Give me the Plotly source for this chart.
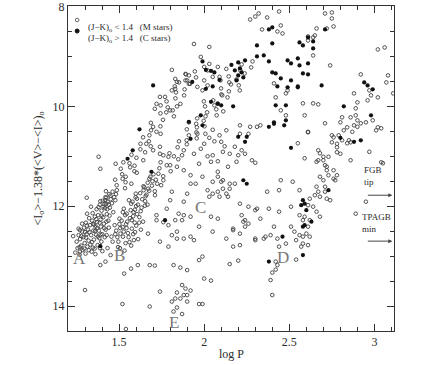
import plotly.graph_objects as go

# ---- M stars (J-K)o < 1.4 as (log P, magnitude) ----
m_seq_a = [
    (1.243, 12.93), (1.251, 12.71), (1.256, 12.84), (1.262, 12.58), (1.268, 12.97), (1.271, 12.66),
    (1.277, 12.79), (1.283, 12.51), (1.286, 12.88), (1.291, 12.62), (1.294, 12.43), (1.298, 12.74),
    (1.303, 12.95), (1.305, 12.33), (1.309, 12.56), (1.314, 12.81), (1.318, 12.47), (1.321, 12.69),
    (1.324, 12.24), (1.329, 12.38), (1.331, 12.77), (1.336, 12.58), (1.339, 12.91), (1.342, 12.29),
    (1.345, 12.14), (1.349, 12.49), (1.352, 12.67), (1.356, 12.85), (1.358, 12.21), (1.362, 12.41),
    (1.365, 12.57), (1.368, 12.06), (1.371, 12.32), (1.374, 12.78), (1.377, 12.18), (1.381, 12.49),
    (1.384, 12.64), (1.387, 11.97), (1.391, 12.27), (1.393, 12.41), (1.397, 12.09), (1.401, 12.56),
    (1.404, 11.89), (1.407, 12.22), (1.411, 12.35), (1.414, 11.96), (1.418, 12.04), (1.421, 12.47),
    (1.425, 11.83), (1.428, 12.16), (1.433, 11.91), (1.437, 12.29), (1.442, 11.76), (1.446, 12.03),
    (1.451, 11.86), (1.455, 12.61), (1.462, 11.71), (1.361, 12.96), (1.402, 12.90), (1.432, 12.84),
    (1.312, 12.15), (1.335, 12.01), (1.283, 12.35), (1.352, 12.37), (1.375, 12.61), (1.396, 12.71),
    (1.416, 12.62), (1.440, 12.43), (1.427, 12.58), (1.300, 12.52),
    (1.262, 12.45), (1.279, 12.60), (1.295, 12.85), (1.311, 12.39), (1.326, 12.52), (1.341, 12.72),
    (1.347, 12.35), (1.359, 12.50), (1.366, 12.26), (1.372, 12.44), (1.379, 12.02), (1.386, 12.33),
    (1.392, 12.57), (1.398, 12.19), (1.409, 12.01), (1.413, 12.44), (1.419, 11.88), (1.426, 12.31),
    (1.431, 12.06), (1.439, 11.97), (1.444, 12.19), (1.449, 11.79), (1.458, 11.94), (1.466, 12.12),
    (1.471, 11.82), (1.322, 12.88), (1.346, 12.83), (1.388, 12.84), (1.268, 12.82), (1.306, 12.63),
    (1.425, 11.95), (1.478, 11.88), (1.420, 11.82), (1.482, 11.76), (1.423, 11.70), (1.535, 11.64),
    (1.486, 11.58), (1.538, 11.52), (1.477, 11.47), (1.539, 11.41), (1.518, 11.36), (1.590, 11.30),
    (1.510, 11.25), (1.591, 11.19), (1.561, 11.14), (1.642, 11.08), (1.602, 11.03), (1.573, 10.97),
    (1.653, 10.92), (1.625, 10.86), (1.686, 10.80), (1.626, 10.75), (1.390, 11.90), (1.572, 11.55),
    (1.604, 11.33), (1.525, 11.12), (1.700, 10.88), (1.487, 11.68), (1.521, 11.45), (1.565, 11.22),
    (1.675, 10.70), (1.641, 10.62), (1.744, 10.55), (1.688, 10.48), (1.743, 10.40), (1.687, 10.33),
    (1.758, 10.27), (1.822, 10.20), (1.743, 10.14), (1.815, 10.08), (1.786, 10.02), (1.860, 9.95),
    (1.779, 9.90), (1.831, 9.84), (1.882, 9.78), (1.834, 9.72), (1.885, 9.66), (1.827, 9.60),
    (1.917, 9.55), (1.890, 9.48), (1.952, 9.42), (1.893, 9.36), (1.945, 9.30), (1.678, 10.58),
    (1.777, 10.12), (1.744, 9.98), (1.852, 9.52),
]

m_seq_b = [
    (1.462, 12.71), (1.483, 12.49), (1.494, 12.82), (1.502, 12.36), (1.523, 12.61), (1.544, 12.44),
    (1.561, 12.72), (1.548, 12.31), (1.583, 12.56), (1.601, 12.39), (1.571, 12.79), (1.532, 12.89),
    (1.612, 12.66), (1.628, 12.47), (1.508, 12.55), (1.474, 12.38), (1.592, 12.33), (1.641, 12.31),
    (1.552, 12.54), (1.521, 12.42), (1.587, 12.68), (1.490, 12.62),
    (1.478, 12.56), (1.496, 12.71), (1.507, 12.44), (1.515, 12.29), (1.527, 12.51), (1.536, 12.18),
    (1.541, 12.36), (1.556, 12.62), (1.564, 12.24), (1.568, 12.08), (1.575, 12.45), (1.579, 11.91),
    (1.585, 12.12), (1.594, 12.52), (1.597, 11.82), (1.606, 12.16), (1.611, 11.97), (1.618, 12.33),
    (1.624, 11.74), (1.632, 12.03), (1.636, 11.86), (1.648, 11.62), (1.652, 11.99), (1.661, 11.77),
    (1.668, 11.53), (1.677, 11.69), (1.684, 11.41), (1.693, 11.59), (1.702, 11.36), (1.716, 11.47),
    (1.538, 12.74), (1.505, 12.84),
    (1.502, 12.25), (1.583, 12.20), (1.545, 12.15), (1.627, 12.10), (1.528, 12.05), (1.600, 12.00),
    (1.571, 11.95), (1.653, 11.90), (1.605, 11.85), (1.656, 11.80), (1.598, 11.75), (1.710, 11.70),
    (1.671, 11.65), (1.643, 11.60), (1.724, 11.55), (1.696, 11.50), (1.619, 12.22), (1.593, 12.07),
    (1.667, 11.97), (1.558, 11.88), (1.711, 11.78), (1.644, 11.68), (1.747, 11.58), (1.522, 12.12),
    (1.575, 12.28),
    (1.678, 11.45), (1.759, 11.40), (1.731, 11.35), (1.803, 11.30), (1.737, 11.24), (1.800, 11.18),
    (1.744, 11.12), (1.848, 11.06), (1.822, 11.00), (1.796, 10.94), (1.880, 10.88), (1.844, 10.82),
    (1.898, 10.76), (1.852, 10.70), (1.956, 10.64), (1.910, 10.58), (1.954, 10.52), (1.898, 10.46),
    (2.002, 10.40), (1.953, 10.35), (1.997, 10.29), (1.959, 10.24), (2.073, 10.18), (2.017, 10.12),
    (2.071, 10.06), (2.005, 10.00), (2.079, 9.94), (2.053, 9.88), (2.137, 9.82), (2.101, 9.76),
    (2.145, 9.70), (2.099, 9.64), (2.203, 9.58), (2.147, 9.52), (2.190, 9.46), (2.144, 9.40),
    (2.238, 9.34), (2.212, 9.28), (2.276, 9.22), (2.220, 9.16), (2.284, 9.10), (2.007, 10.55),
    (1.910, 10.32), (2.112, 10.10), (1.998, 9.90), (2.209, 9.68), (2.096, 9.48), (1.897, 10.68),
    (1.957, 10.42), (2.008, 10.20), (2.060, 9.98), (2.106, 9.78), (2.157, 9.56),
    (1.96, 10.55), (2.03, 10.63), (2.05, 10.47), (2.06, 10.70), (2.09, 10.58), (2.12, 10.80),
    (1.98, 10.85), (2.02, 11.00), (2.08, 11.10), (2.00, 10.75),
]

m_top = [
    (2.27, 8.26), (2.30, 8.20), (2.32, 8.14), (2.37, 8.22), (2.44, 8.10), (2.34, 8.46), (2.43, 8.50),
    (2.45, 8.38), (2.46, 8.54), (2.71, 8.14), (2.75, 8.12), (2.75, 8.24), (2.76, 8.40), (2.72, 8.44),
    (2.66, 8.44), (2.65, 8.58), (2.64, 8.62), (2.61, 8.68), (2.61, 8.60), (2.74, 9.18), (2.64, 8.98),
    (1.81, 9.27), (1.84, 9.51), (1.89, 9.35), (1.91, 9.38), (1.94, 8.75), (1.98, 9.01), (2.00, 9.21),
    (2.02, 9.28), (2.03, 8.81), (1.74, 9.81), (1.77, 9.81), (1.72, 9.95), (1.71, 10.05), (1.81, 9.68),
    (1.83, 9.65), (1.90, 9.48), (1.96, 9.61), (2.00, 9.48), (2.02, 9.58), (1.80, 10.08), (1.84, 10.00),
    (1.83, 9.45), (1.91, 9.55), (2.03, 9.15), (2.08, 9.21), (2.13, 9.25), (2.05, 9.41), (1.99, 9.68),
    (2.09, 9.41),
]

m_right = [
    (3.02, 8.86), (3.06, 8.82), (3.08, 9.38), (3.07, 9.52), (3.11, 9.74), (2.92, 9.36), (3.02, 9.82),
    (2.97, 9.68), (2.96, 9.88), (2.88, 9.74), (2.90, 9.92), (2.98, 9.78), (2.89, 10.04), (2.86, 10.22),
    (2.89, 10.18), (2.90, 10.28), (2.88, 10.38), (2.92, 10.34), (2.95, 10.32), (2.99, 10.28), (3.02, 10.42),
    (3.04, 10.44), (2.81, 10.22), (2.80, 10.32), (2.84, 10.42), (2.82, 10.48), (2.79, 10.58), (2.81, 10.68),
    (2.76, 10.62), (2.75, 10.72), (2.78, 10.82), (2.86, 10.72), (2.84, 10.74), (2.78, 10.92), (2.71, 10.34),
    (2.61, 10.52), (2.55, 10.74), (2.59, 11.04), (2.67, 10.88), (2.68, 10.94), (2.70, 11.08), (2.71, 11.18),
    (2.72, 11.28), (2.73, 11.38), (2.76, 11.28), (2.77, 11.48), (2.67, 11.08), (2.86, 11.08), (3.04, 11.12),
    (3.05, 11.14), (2.64, 9.94), (2.67, 9.96), (2.58, 9.94), (2.59, 10.18), (2.48, 10.18), (2.45, 10.08),
    (2.42, 9.82), (2.41, 9.54), (2.48, 9.74), (2.49, 9.68), (2.61, 10.51), (2.70, 11.01), (2.66, 11.11),
    (2.73, 11.01), (2.75, 10.58), (2.78, 10.75), (2.80, 10.95), (2.85, 10.68), (2.87, 10.51), (2.90, 10.41),
    (2.97, 10.91), (3.01, 10.48), (2.95, 11.91), (2.89, 12.15),
]

m_seq_d = [
    (2.72, 11.21), (2.78, 11.38), (2.76, 11.45), (2.68, 11.41), (2.70, 11.48), (2.71, 11.61), (2.66, 11.61),
    (2.67, 11.71), (2.65, 11.78), (2.68, 11.81), (2.71, 11.71), (2.72, 11.85), (2.74, 11.88), (2.62, 11.85),
    (2.61, 11.98), (2.64, 12.01), (2.59, 12.21), (2.58, 12.28), (2.62, 12.28), (2.61, 12.41), (2.56, 12.18),
    (2.51, 12.41), (2.53, 12.51), (2.56, 12.58), (2.54, 12.68), (2.58, 12.61), (2.60, 12.55), (2.62, 12.61),
    (2.58, 12.75), (2.61, 12.78), (2.57, 12.81), (2.66, 12.11), (2.68, 12.21), (2.44, 12.11), (2.51, 12.01),
    (2.56, 11.68), (2.52, 11.51), (2.45, 11.48), (2.44, 11.68), (2.37, 11.71), (2.48, 12.75), (2.44, 12.81),
    (2.39, 12.58), (2.36, 12.61), (2.30, 12.65),
]

m_field = [
    (2.13, 10.48), (2.21, 10.38), (2.27, 10.41), (2.31, 10.41), (2.33, 10.38), (2.21, 10.55), (2.26, 10.55),
    (2.10, 10.71), (2.11, 10.91), (2.18, 10.81), (2.22, 10.88), (2.24, 10.95), (2.15, 10.95), (2.20, 10.98),
    (2.19, 11.11), (2.28, 11.08), (2.30, 11.13), (2.14, 11.21), (2.11, 11.48), (2.18, 11.55), (2.14, 11.81),
    (2.21, 11.95), (2.26, 12.01), (2.30, 12.08), (2.33, 12.25), (2.24, 12.28), (2.26, 12.35), (2.17, 12.45),
    (2.21, 12.55), (2.13, 12.65),
    (1.74, 10.95), (1.79, 11.01), (1.87, 10.98), (1.94, 10.95), (1.97, 11.15), (2.05, 10.98), (2.04, 11.11),
    (1.78, 11.18), (1.84, 11.21), (1.88, 11.28), (1.76, 11.48), (1.92, 11.38), (1.99, 11.41), (2.08, 11.31),
    (2.08, 11.41), (2.05, 11.51), (2.10, 11.51), (2.15, 11.55), (1.92, 11.55), (1.95, 11.55), (2.02, 11.68),
    (2.05, 11.75), (2.08, 11.71), (2.11, 11.65), (2.13, 11.75), (2.15, 11.65), (2.03, 11.81), (2.09, 11.81),
    (1.81, 11.71), (1.88, 11.91), (1.80, 11.88), (1.90, 11.75), (1.78, 12.05), (1.85, 12.15), (1.88, 12.18),
    (1.92, 12.21), (2.04, 12.21), (2.08, 12.25), (1.72, 12.28), (1.83, 12.28), (1.87, 12.28), (1.97, 12.41),
    (2.05, 12.51), (2.17, 12.48), (2.22, 12.18), (2.23, 12.31), (2.24, 12.41), (2.31, 12.05), (2.38, 12.05),
    (2.41, 12.41), (2.43, 12.65), (2.35, 12.65), (2.30, 12.68), (2.17, 12.81), (2.21, 12.78), (1.74, 12.71),
    (1.81, 12.58), (1.84, 12.65), (1.92, 12.61), (1.94, 12.68), (1.88, 12.65),
    (1.72, 12.18), (1.76, 12.32), (1.79, 12.38), (1.67, 12.55), (1.79, 12.81), (1.84, 12.51),
    (1.38, 11.01), (1.39, 11.25), (1.48, 11.15), (1.31, 11.83), (1.23, 12.60), (1.27, 12.48), (1.66, 10.75),
    (1.70, 10.41), (1.72, 10.51), (1.74, 10.81), (1.76, 10.98),
]

m_low = [
    (1.27, 12.91), (1.39, 13.18), (1.42, 13.11), (1.45, 12.98), (1.53, 13.35), (1.57, 13.25), (1.61, 13.18),
    (1.68, 13.18), (1.71, 13.19), (1.82, 13.18), (1.86, 13.23), (1.90, 13.28), (1.97, 13.08), (1.99, 13.01),
    (2.00, 13.45), (2.04, 13.49), (1.30, 13.68), (1.52, 13.96), (1.68, 14.01), (1.74, 13.71), (1.84, 13.73),
    (1.81, 13.91), (1.83, 13.85), (1.87, 13.58), (1.89, 13.65), (1.90, 13.78), (1.88, 13.78), (1.92, 13.69),
    (1.86, 13.85), (1.90, 13.91), (1.82, 14.11), (1.87, 14.16), (1.84, 14.03), (1.97, 13.96), (1.99, 13.96),
    (1.54, 14.46), (2.15, 13.16), (2.20, 13.09), (2.42, 13.11), (2.43, 13.18), (2.42, 13.27), (2.40, 13.33),
    (2.39, 13.48), (2.40, 13.78), (2.54, 13.07),
]

# ---- C stars (J-K)o > 1.4 ----
c_stars = [
    (1.39, 12.80), (1.62, 10.46), (1.55, 11.05), (1.58, 10.88), (1.69, 11.31), (1.77, 12.28), (1.70, 9.58),
    (1.91, 10.31), (1.92, 10.65), (1.98, 10.18), (1.99, 10.38), (1.93, 9.51), (2.01, 9.65), (2.04, 9.91),
    (2.08, 9.95), (2.10, 9.98), (2.17, 10.00), (1.99, 9.10), (2.01, 9.27), (2.04, 9.29), (2.06, 9.32),
    (2.05, 9.60), (2.09, 9.47), (2.18, 9.28), (2.20, 9.12), (2.21, 9.24), (2.24, 9.08), (2.22, 9.32),
    (2.23, 9.42), (2.20, 9.38), (2.19, 9.48), (2.16, 9.17), (2.31, 9.00), (2.35, 8.98), (2.38, 9.10),
    (2.40, 9.32), (2.42, 9.34), (2.45, 9.44), (2.49, 9.08), (2.51, 9.14), (2.55, 9.04), (2.56, 9.18),
    (2.61, 9.14), (2.58, 9.34), (2.61, 9.36), (2.51, 9.48), (2.49, 9.62), (2.55, 9.62), (2.56, 8.72),
    (2.58, 8.78), (2.61, 8.62), (2.64, 8.70), (2.64, 8.84), (2.31, 8.78), (2.40, 8.74), (2.38, 8.46),
    (2.40, 8.42), (2.71, 8.46), (2.69, 9.58), (2.82, 10.00), (2.94, 9.52), (2.96, 9.58), (2.99, 9.66),
    (2.98, 10.18), (2.42, 9.98), (2.48, 9.98), (2.48, 10.28), (2.41, 10.32), (2.43, 9.60), (2.55, 9.60),
    (2.38, 10.41), (2.41, 10.35), (2.47, 10.38), (2.20, 10.61), (2.24, 10.71), (2.25, 10.61), (2.51, 10.83),
    (2.88, 10.71), (2.92, 10.68), (2.80, 10.63), (2.23, 11.48), (2.25, 11.55), (2.57, 11.98), (2.59, 11.95),
    (2.60, 12.08), (2.58, 12.41), (2.59, 12.38), (2.58, 11.88), (2.46, 12.61), (2.63, 12.31), (2.73, 11.68),
    (2.58, 12.98), (2.38, 13.11),
]

seq_letters = ['A', 'B', 'C', 'D', 'E']
letter_logp = [1.27, 1.50, 1.98, 2.46, 1.82]
letter_mag = [13.04, 12.98, 12.02, 13.02, 14.32]

m_all = m_seq_a + m_seq_b + m_top + m_right + m_seq_d + m_field + m_low
m_logp = [p[0] for p in m_all]
m_mag = [p[1] for p in m_all]
c_logp = [p[0] for p in c_stars]
c_mag = [p[1] for p in c_stars]

serif = 'Liberation Serif'
ink = '#2a2a2a'

fig = go.Figure()

fig.add_trace(go.Scatter(
    x = m_logp, y = m_mag,
    mode = 'markers',
    marker = dict(symbol = 'circle-open', size = 3.6, color = '#404040', line = dict(width = 0.9)),
    showlegend = False))

fig.add_trace(go.Scatter(
    x = c_logp, y = c_mag,
    mode = 'markers',
    marker = dict(symbol = 'circle', size = 4.2, color = '#111111'),
    showlegend = False))

# sequence letters
for t, x, y in zip(seq_letters, letter_logp, letter_mag):
    fig.add_annotation(x = x, y = y, text = t, showarrow = False,
                       font = dict(family = serif, size = 17, color = '#777777'))

# legend drawn by hand so the rows sit close together
fig.add_shape(type = 'circle', xref = 'paper', yref = 'paper', xsizemode = 'pixel', ysizemode = 'pixel',
              xanchor = 0.028, yanchor = 0.957, x0 = -1.8, x1 = 1.8, y0 = -1.8, y1 = 1.8,
              line = dict(color = '#555555', width = 0.9))
fig.add_shape(type = 'circle', xref = 'paper', yref = 'paper', xsizemode = 'pixel', ysizemode = 'pixel',
              xanchor = 0.028, yanchor = 0.923, x0 = -2, x1 = 2, y0 = -2, y1 = 2,
              line = dict(color = '#111111', width = 1), fillcolor = '#111111')
fig.add_annotation(x = 0.055, y = 0.957, xref = 'paper', yref = 'paper', xanchor = 'left', showarrow = False,
                   text = '(J\u2212K)<sub>o</sub> &lt; 1.4&nbsp;&nbsp;&nbsp;(M stars)',
                   font = dict(family = serif, size = 9, color = ink))
fig.add_annotation(x = 0.055, y = 0.923, xref = 'paper', yref = 'paper', xanchor = 'left', showarrow = False,
                   text = '(J\u2212K)<sub>o</sub> &gt; 1.4&nbsp;&nbsp;&nbsp;(C stars)',
                   font = dict(family = serif, size = 9, color = ink))

# FGB tip / TPAGB min markers
fig.add_annotation(x = 3.105, y = 11.78, ax = -26, ay = 0, text = '', showarrow = True,
                   arrowhead = 2, arrowsize = 0.8, arrowwidth = 1, arrowcolor = '#444444')
fig.add_annotation(x = 3.105, y = 12.70, ax = -26, ay = 0, text = '', showarrow = True,
                   arrowhead = 2, arrowsize = 0.8, arrowwidth = 1, arrowcolor = '#444444')
fig.add_annotation(x = 2.925, y = 11.66, xanchor = 'left', yanchor = 'bottom', showarrow = False,
                   text = 'FGB<br>tip', align = 'left',
                   font = dict(family = serif, size = 9, color = ink))
fig.add_annotation(x = 2.915, y = 12.60, xanchor = 'left', yanchor = 'bottom', showarrow = False,
                   text = 'TPAGB<br>min', align = 'left',
                   font = dict(family = serif, size = 9, color = ink))

# axis titles placed by hand
fig.add_annotation(x = 0.5, y = 0, xref = 'paper', yref = 'paper', yanchor = 'top', yshift = -14,
                   showarrow = False, text = 'log P',
                   font = dict(family = serif, size = 12, color = ink))
fig.add_annotation(x = 0, y = 0.5, xref = 'paper', yref = 'paper', xanchor = 'center', xshift = -30,
                   showarrow = False, textangle = -90,
                   text = '&lt;I<sub>o</sub>&gt;\u22121.38*(&lt;V&gt;\u2212&lt;I&gt;)<sub>o</sub>',
                   font = dict(family = serif, size = 12, color = ink))

axis_common = dict(
    showgrid = False, zeroline = False, automargin = False, ticklabeloverflow = 'allow',
    showline = True, linecolor = '#333333', linewidth = 1, mirror = 'ticks',
    ticks = 'inside', ticklen = 7, tickcolor = '#333333', tickwidth = 1,
    tickfont = dict(family = serif, size = 12, color = ink),
)

fig.update_xaxes(
    range = [1.2, 3.115],
    tickvals = [1.5, 2, 2.5, 3], ticktext = ['1.5', '2', '2.5', '3'],
    minor = dict(dtick = 0.1, tick0 = 1.2, ticks = 'inside', ticklen = 4, tickcolor = '#333333'),
    **axis_common)

fig.update_yaxes(
    range = [14.5, 7.99],
    tickvals = [8, 10, 12, 14],
    minor = dict(dtick = 0.5, tick0 = 8, ticks = 'inside', ticklen = 4, tickcolor = '#333333'),
    **axis_common)

fig.update_layout(
    width = 436, height = 365,
    margin = dict(l = 68, r = 42, t = 6, b = 34),
    plot_bgcolor = 'white',
    paper_bgcolor = 'white',
    showlegend = False,
)

fig.write_html("out.html", config = {'displayModeBar': False},
               post_script = "document.body.style.margin = '0';")
